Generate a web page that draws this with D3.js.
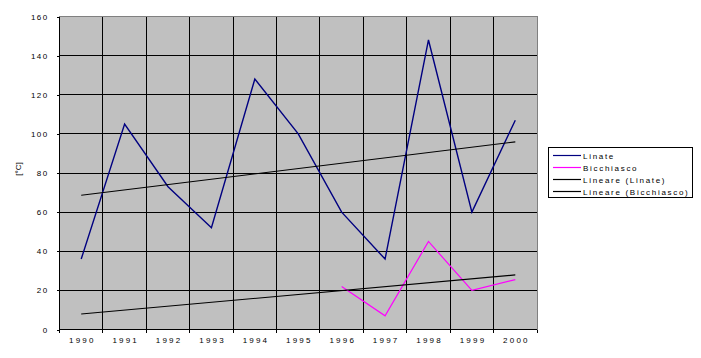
<!DOCTYPE html>
<html lang="it">
<head>
<meta charset="utf-8">
<title>Linate / Bicchiasco</title>
<script src="https://cdn.jsdelivr.net/npm/d3@7"></script>
<style>
  body { margin: 0; background: #fff; }
  text { font-family: "Liberation Sans", Arial, sans-serif; font-size: 8px; fill: #000; }
</style>
</head>
<body>
<div id="chart"></div>
<script>
// dati
var anni = ["1990", "1991", "1992", "1993", "1994", "1995", "1996", "1997", "1998", "1999", "2000"];
var linate = [36, 105, 73, 52, 128, 100, 60, 36, 148, 60, 107];
var bicchiasco = [null, null, null, null, null, null, 22, 7, 45, 20, 25.5];
var yTicks = [0, 20, 40, 60, 80, 100, 120, 140, 160];
var legenda = ["Linate", "Bicchiasco", "Lineare (Linate)", "Lineare (Bicchiasco)"];

var w = 701, h = 358;
var pLeft = 59.5, pRight = 537, pTop = 16.5, pBottom = 329.5;

var svg = d3.select("#chart").append("svg")
    .attr("width", w)
    .attr("height", h);

var x = d3.scaleBand().domain(anni).range([pLeft, pRight]).padding(0);
var y = d3.scaleLinear().domain([0, 160]).range([pBottom, pTop]);
var xc = function (d) { return x(d) + x.bandwidth() / 2; };

// area del grafico
svg.append("rect")
    .attr("x", pLeft).attr("y", pTop)
    .attr("width", pRight - pLeft).attr("height", pBottom - pTop)
    .attr("fill", "#c0c0c0")
    .attr("stroke", "#808080")
    .attr("stroke-width", 1)
    .attr("shape-rendering", "crispEdges");

// griglia orizzontale
svg.append("g").selectAll("line")
    .data(yTicks.slice(1, -1))
    .enter().append("line")
    .attr("x1", pLeft).attr("x2", pRight)
    .attr("y1", function (d) { return y(d); })
    .attr("y2", function (d) { return y(d); })
    .attr("stroke", "#000")
    .attr("shape-rendering", "crispEdges");

// confini delle categorie
var confini = anni.map(function (d) { return x(d); }).concat([pRight]);

svg.append("g").selectAll("line")
    .data(confini.slice(1, -1))
    .enter().append("line")
    .attr("x1", function (d) { return d; })
    .attr("x2", function (d) { return d; })
    .attr("y1", pTop).attr("y2", pBottom)
    .attr("stroke", "#000")
    .attr("shape-rendering", "crispEdges");

// asse y
var yAxis = d3.axisLeft(y).tickValues(yTicks).tickSize(3).tickPadding(8);
var gy = svg.append("g")
    .attr("transform", "translate(" + pLeft + ",0)")
    .call(yAxis);
gy.select(".domain").remove();
gy.selectAll(".tick line").attr("stroke", "#000").attr("shape-rendering", "crispEdges");
gy.selectAll(".tick text").attr("style", "letter-spacing:1.4px").attr("font-family", null).attr("font-size", null);
gy.attr("font-family", null).attr("font-size", null);

svg.append("line")
    .attr("x1", pLeft).attr("x2", pLeft)
    .attr("y1", pTop).attr("y2", pBottom)
    .attr("stroke", "#000")
    .attr("shape-rendering", "crispEdges");

// asse x
var gx = svg.append("g")
    .attr("transform", "translate(0," + pBottom + ")")
    .call(d3.axisBottom(x).tickSize(0).tickPadding(8));
gx.select(".domain").remove();
gx.attr("font-family", null).attr("font-size", null);
gx.selectAll(".tick text")
    .attr("style", "letter-spacing:2.2px")
    .attr("dx", "1.1px");

svg.append("line")
    .attr("x1", pLeft).attr("x2", pRight)
    .attr("y1", pBottom).attr("y2", pBottom)
    .attr("stroke", "#000")
    .attr("shape-rendering", "crispEdges");

svg.append("g").selectAll("line")
    .data(confini)
    .enter().append("line")
    .attr("x1", function (d) { return d; })
    .attr("x2", function (d) { return d; })
    .attr("y1", pBottom).attr("y2", pBottom + 3)
    .attr("stroke", "#000")
    .attr("shape-rendering", "crispEdges");

// etichetta asse y
svg.append("text")
    .attr("text-anchor", "middle")
    .attr("transform", "translate(21,169)rotate(-90)")
    .text("[°C]");

// linea di tendenza (minimi quadrati sui punti presenti, estesa a tutte le categorie)
function tendenza(valori) {
    var pts = [];
    valori.forEach(function (v, i) { if (v !== null) pts.push([i, v]); });
    var mx = d3.mean(pts, function (p) { return p[0]; });
    var my = d3.mean(pts, function (p) { return p[1]; });
    var num = d3.sum(pts, function (p) { return (p[0] - mx) * (p[1] - my); });
    var den = d3.sum(pts, function (p) { return (p[0] - mx) * (p[0] - mx); });
    var b = num / den, a = my - b * mx;
    return [[0, a], [anni.length - 1, a + b * (anni.length - 1)]];
}

var lineaIdx = d3.line()
    .x(function (p) { return xc(anni[p[0]]); })
    .y(function (p) { return y(p[1]); });

var serie = d3.line()
    .defined(function (d) { return d !== null; })
    .x(function (d, i) { return xc(anni[i]); })
    .y(function (d) { return y(d); });

svg.append("path")
    .attr("d", serie(linate))
    .attr("fill", "none")
    .attr("stroke", "#000080")
    .attr("stroke-width", 1.4);

svg.append("path")
    .attr("d", serie(bicchiasco))
    .attr("fill", "none")
    .attr("stroke", "#ff00ff")
    .attr("stroke-width", 1.2);

svg.append("path")
    .attr("d", lineaIdx(tendenza(linate)))
    .attr("fill", "none")
    .attr("stroke", "#000")
    .attr("stroke-width", 1.1);

svg.append("path")
    .attr("d", lineaIdx(tendenza(bicchiasco)))
    .attr("fill", "none")
    .attr("stroke", "#000")
    .attr("stroke-width", 1.1);

// legenda
var colori = ["#000080", "#ff00ff", "#000", "#000"];
var leg = svg.append("g");
leg.append("rect")
    .attr("x", 548.5).attr("y", 147.5)
    .attr("width", 144).attr("height", 50)
    .attr("fill", "#fff")
    .attr("stroke", "#000")
    .attr("shape-rendering", "crispEdges");

var voce = leg.selectAll("g.voce")
    .data(legenda)
    .enter().append("g")
    .attr("class", "voce")
    .attr("transform", function (d, i) { return "translate(0," + (155.5 + i * 12) + ")"; });

voce.append("line")
    .attr("x1", 553).attr("x2", 581)
    .attr("y1", 0).attr("y2", 0)
    .attr("stroke", function (d, i) { return colori[i]; })
    .attr("stroke-width", 1.2);

voce.append("text")
    .attr("x", 583)
    .attr("y", 3)
    .attr("style", "letter-spacing:1.7px")
    .text(function (d) { return d; });
</script>
</body>
</html>
